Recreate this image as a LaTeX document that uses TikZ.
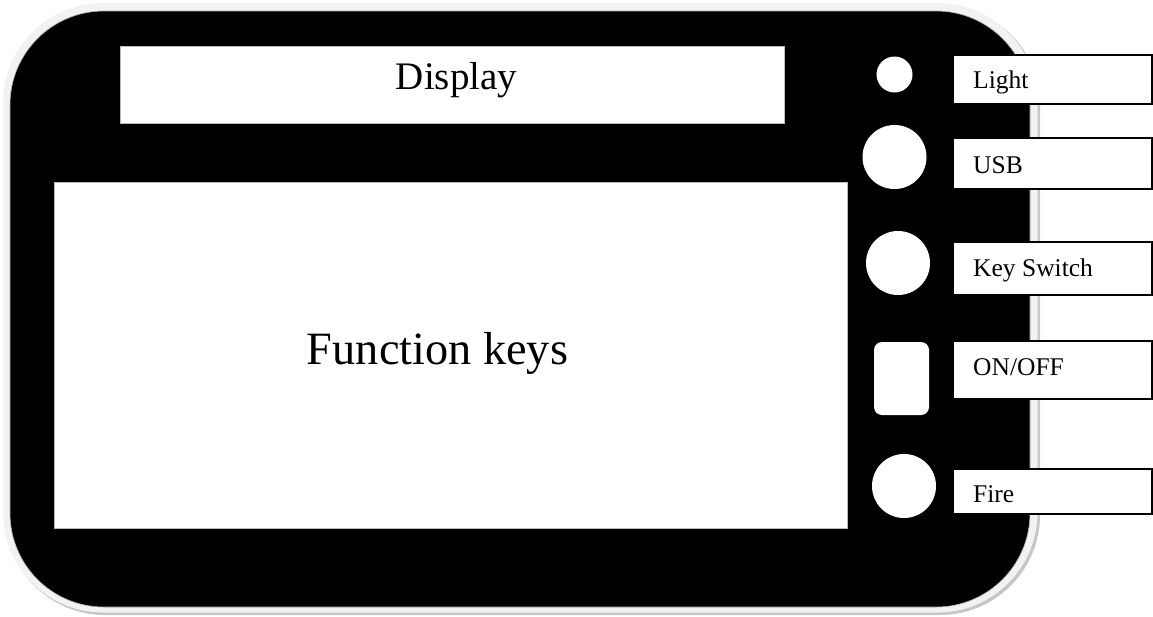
\documentclass[tikz,border=0pt]{standalone}
\usepackage{fontspec}
\setmainfont{Liberation Serif}
\begin{document}
\begin{tikzpicture}[x=1pt,y=-1pt,
  panel/.style={fill=white, draw=gray!55, line width=0.8pt, inner sep=0pt},
  btn/.style={circle, fill=white, draw=none, inner sep=0pt},
  lblbox/.style={rectangle, fill=white, draw=black, line width=1.1pt, inner sep=0pt, minimum width=199pt},
  lbltext/.style={font=\fontsize{25.5}{28}\selectfont, inner sep=0pt, anchor=base west},
  bigtext/.style={inner sep=0pt, anchor=base}]
\useasboundingbox (0,0) rectangle (1153,616);
% casing
\fill[gray!45, rounded corners=100pt] (5,5) rectangle (1040,615);
\fill[gray!10, rounded corners=100pt] (3,3) rectangle (1037.5,612.5);
\filldraw[fill=black, draw=gray!60, line width=0.6pt, rounded corners=94pt] (10,11) rectangle (1030,607);
% display and function keys
\node[panel, minimum width=664pt, minimum height=77pt] (display) at (452,84.5) {};
\node[bigtext, font=\fontsize{39}{44}\selectfont] (displaytxt) at (456.5,89) {Display};
\node[panel, minimum width=793pt, minimum height=346pt] (fkeys) at (450.5,355) {};
\node[bigtext, font=\fontsize{46.3}{52}\selectfont] (fkeystxt) at (437.5,364) {Function keys};
% buttons
\node[btn, minimum size=36pt] (light) at (894.5,74.5) {};
\node[btn, minimum size=64pt] (usb) at (894.5,157) {};
\node[btn, minimum size=64pt] (key) at (898,263) {};
\node[rectangle, fill=white, rounded corners=8pt, minimum width=55pt, minimum height=73pt, inner sep=0pt] (onoff) at (901.5,378.5) {};
\node[btn, minimum size=64pt] (fire) at (904,486) {};
% labels
\node[lblbox, minimum height=49pt] (lightbox) at (1052.5,79.5) {};
\node[lbltext] (lighttxt) at (973,88) {Light};
\node[lblbox, minimum height=51pt] (usbbox) at (1052.5,163.5) {};
\node[lbltext] (usbtxt) at (973,173) {USB};
\node[lblbox, minimum height=53pt] (keybox) at (1052.5,268.5) {};
\node[lbltext] (keytxt) at (973,276) {Key Switch};
\node[lblbox, minimum height=58pt] (onoffbox) at (1052.5,370) {};
\node[lbltext] (onofftxt) at (973,375) {ON/OFF};
\node[lblbox, minimum height=45pt] (firebox) at (1052.5,491.5) {};
\node[lbltext] (firetxt) at (973,502) {Fire};
\end{tikzpicture}
\end{document}
